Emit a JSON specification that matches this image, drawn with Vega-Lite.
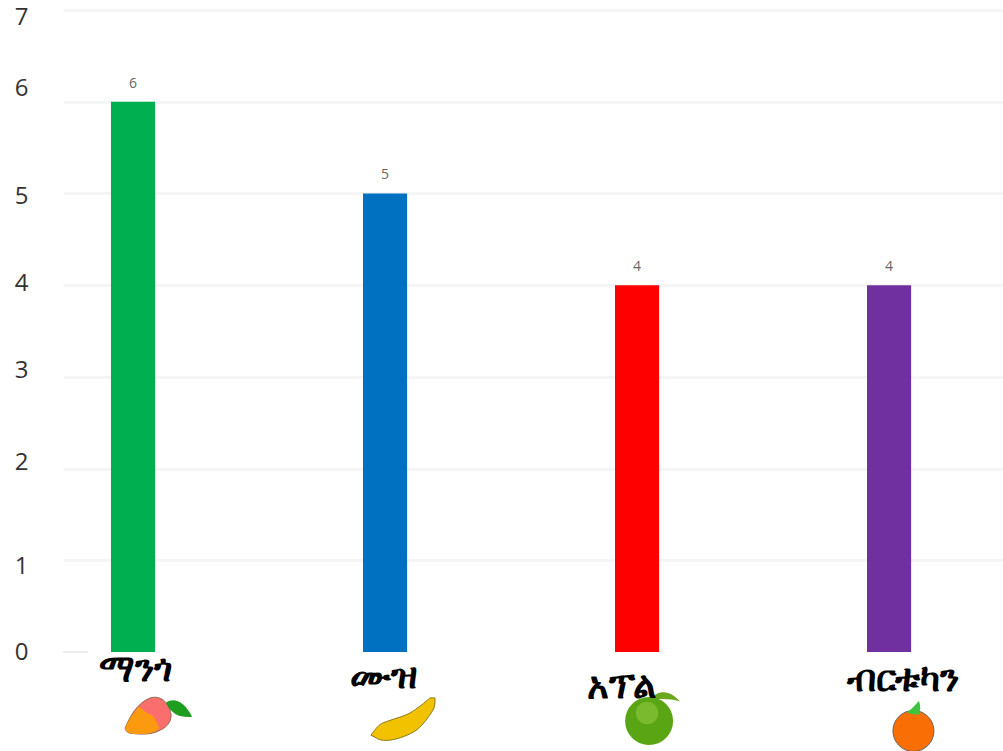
{
"$schema":"https://vega.github.io/schema/vega-lite/v6.json",
"width":940,"height":642,
"autosize":{"type":"none"},
"padding":{"left":63,"top":10,"right":0,"bottom":99},
"background":"white",
"config":{"view":{"stroke":null}},
"resolve":{"scale":{"x":"independent"}},
"layer":[
{"data":{"values":[{"fruit":"ማንጎ","count":6},{"fruit":"ሙዝ","count":5},{"fruit":"አፕል","count":4},{"fruit":"ብርቱካን","count":4}]},
"encoding":{
"x":{"field":"fruit","type":"nominal","sort":null,"axis":null,"scale":{"paddingInner":0.825,"paddingOuter":0.2775,"align":0.343}},
"y":{"field":"count","type":"quantitative","scale":{"domain":[0,7],"nice":false},
"axis":{"values":[0,1,2,3,4,5,6,7],"format":"d","title":null,"domain":false,"ticks":false,"labelPadding":35,"labelFont":"Open Sans","labelFontSize":24,"labelColor":"#333333",
"labelOffset":{"condition":[{"test":"datum.value==7","value":7},{"test":"datum.value==6","value":-13},{"test":"datum.value==5","value":3},{"test":"datum.value==4","value":-2},{"test":"datum.value==3","value":-6},{"test":"datum.value==2","value":-6},{"test":"datum.value==1","value":6}],"value":0},
"gridColor":"#f5f5f5","gridWidth":3,"gridOpacity":{"condition":{"test":"datum.value==0","value":0},"value":1}}}},
"layer":[
{"mark":{"type":"bar"},"encoding":{"color":{"field":"fruit","type":"nominal","sort":null,"legend":null,"scale":{"range":["#00b050","#0070c0","#ff0000","#7030a0"]}}}},
{"mark":{"type":"text","font":"Open Sans","fontSize":14,"color":"#666666","baseline":"middle","dy":-18},"encoding":{"text":{"field":"count","type":"quantitative"}}}
]},
{"encoding":{
"x":{"field":"px","type":"quantitative","axis":null,"scale":{"domain":[-0.2778,3.4524],"nice":false,"zero":false}},
"y":{"field":"py","type":"quantitative","scale":{"domain":[0,7],"nice":false}}},
"layer":[
{"data":{"values":[{"px":-0.278,"px2":-0.179,"py":0}]},"mark":{"type":"rule","color":"#ececec","strokeWidth":2},"encoding":{"x2":{"field":"px2"}}},
{"data":{"values":[{"px":0.06,"py":-0.709}]},"mark":{"type":"point","filled":true,"opacity":1,"color":"#fa6e6e","stroke":"#8a6a50","strokeWidth":1,"size":2116,"shape":"M-1 .48C-.8 0 -.5 -.6 .09 -.83C.5 -.95 .9 -.7 1 -.09C1 .3 .7 .5 .52 .57C.2 .75 -.2 .78 -.8 .7C-.95 .65 -1 .55 -1 .48Z"}},
{"data":{"values":[{"px":0.06,"py":-0.709}]},"mark":{"type":"point","filled":true,"opacity":1,"color":"#fb9a0e","size":2116,"shape":"M-1 .48C-.85 .1 -.65 -.2 -.4 -.45C-.2 -.35 -.1 -.15 .15 -.1C.3 0 .35 .2 .5 .5C.2 .75 -.2 .78 -.8 .7C-.95 .65 -1 .55 -1 .48Z"}},
{"data":{"values":[{"px":0.183,"py":-0.622}]},"mark":{"type":"point","filled":true,"opacity":1,"color":"#1e9e1e","size":676,"shape":"M-1 -.5C-.4 -.9 .4 -.6 1 .6C.2 .7 -.7 .4 -1 -.5Z"}},
{"data":{"values":[{"px":1.075,"py":-0.709}]},"mark":{"type":"point","filled":true,"opacity":1,"color":"#f2c200","stroke":"#8a7a20","strokeWidth":1,"size":4356,"shape":"M-1 .55C-.85 .35 -.75 .22 -.64 .18C-.3 .05 0 -.02 .18 -.12C.4 -.25 .65 -.45 .79 -.58L.94 -.58C.95 -.4 .93 -.3 .88 -.21C.75 0 .6 .22 .39 .39C.15 .55 -.15 .66 -.42 .7C-.6 .72 -.75 .7 -.82 .64Z"}},
{"data":{"values":[{"px":2.111,"py":-0.491}]},"mark":{"type":"point","filled":true,"opacity":1,"color":"#6aa81e","size":900,"shape":"M-1 .2C-.5 -.5 .3 -.5 1 .3C.4 .1 -.4 .1 -1 .2Z"}},
{"data":{"values":[{"px":2.048,"py":-0.752}]},"mark":{"type":"point","shape":"circle","filled":true,"opacity":1,"color":"#5aa514","size":2304}},
{"data":{"values":[{"px":2.04,"py":-0.665}]},"mark":{"type":"point","shape":"circle","filled":true,"opacity":0.6,"color":"#8fc83f","size":500}},
{"data":{"values":[{"px":3.097,"py":-0.861}]},"mark":{"type":"point","shape":"circle","filled":true,"opacity":1,"color":"#f96f06","stroke":"#666666","strokeWidth":1,"size":1681}},
{"data":{"values":[{"px":3.099,"py":-0.611}]},"mark":{"type":"point","filled":true,"opacity":1,"color":"#3cc43c","size":196,"shape":"M-1 .6C-.5 .3 0 -.2 .7 -1C1 -.3 .9 .4 .7 .9C.2 1 -.5 .9 -1 .6Z"}},
{"data":{"values":[{"label":"ማንጎ","px":0.008,"py":-0.196},{"label":"ሙዝ","px":0.996,"py":-0.273},{"label":"አፕል","px":1.94,"py":-0.382},{"label":"ብርቱካን","px":3.056,"py":-0.305}]},
"mark":{"type":"text","font":"DejaVu Sans","fontWeight":"bold","fontSize":37,"color":"#000000","baseline":"middle"},"encoding":{"text":{"field":"label","type":"nominal"}}}
]}
]
}
